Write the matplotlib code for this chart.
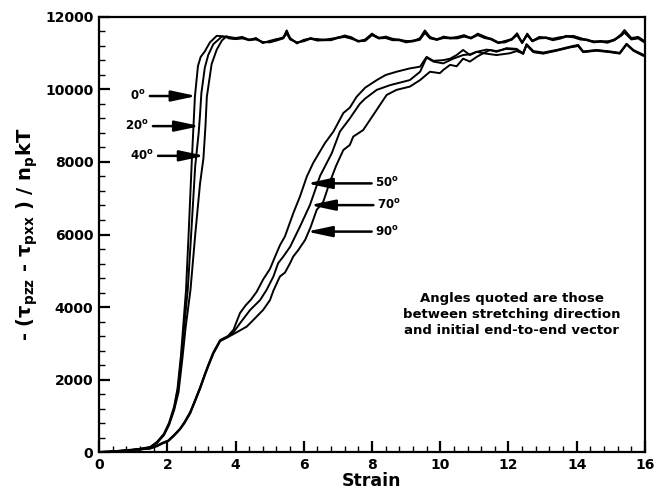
import numpy as np
import matplotlib
matplotlib.use("Agg")
import matplotlib.pyplot as plt

plt.rcParams['font.family'] = ['DejaVu Sans']
plt.rcParams['font.weight'] = 'bold'
plt.rcParams['mathtext.fontset'] = 'custom'
plt.rcParams['mathtext.rm'] = 'DejaVu Sans:bold'
plt.rcParams['mathtext.bf'] = 'DejaVu Sans:bold'
plt.rcParams['mathtext.it'] = 'DejaVu Sans:bold'

# --- fast group (0, 20, 40 deg): rise part ---
rise_0_s = [0, 0.3, 0.6, 0.9, 1.2, 1.5, 1.7, 1.9, 2.05, 2.2, 2.3, 2.4, 2.47, 2.55,
            2.63, 2.72, 2.81, 2.9, 2.98, 3.1, 3.25, 3.45, 3.6]
rise_0_v = [0, 10, 35, 60, 90, 140, 280, 500, 800, 1250, 1750, 2650, 3500, 4470,
            6100, 8050, 9800, 10650, 10900, 11050, 11300, 11480, 11470]
rise_20_s = [0, 0.3, 0.6, 0.9, 1.2, 1.5, 1.7, 1.9, 2.05, 2.2, 2.31, 2.41, 2.5, 2.6,
             2.7, 2.82, 2.92, 2.96, 3.0, 3.1, 3.2, 3.35, 3.6]
rise_20_v = [0, 5, 30, 50, 80, 130, 260, 480, 760, 1200, 1700, 2600, 3500, 4470,
             6000, 7900, 8800, 9300, 9900, 10600, 10950, 11250, 11460]
rise_40_s = [0, 0.3, 0.6, 0.9, 1.2, 1.5, 1.7, 1.9, 2.05, 2.2, 2.33, 2.44, 2.54, 2.68,
             2.82, 2.96, 3.06, 3.12, 3.16, 3.3, 3.45, 3.6, 3.74]
rise_40_v = [0, 5, 25, 45, 75, 120, 250, 460, 740, 1150, 1650, 2550, 3450, 4470,
             6000, 7400, 8100, 9000, 9800, 10700, 11100, 11350, 11470]

# --- fast group plateau ---
plateau_s = [3.8, 4.0, 4.2, 4.4, 4.6, 4.8, 5.0, 5.2, 5.4, 5.5, 5.6, 5.8, 6.0, 6.2,
             6.4, 6.6, 6.8, 7.0, 7.2, 7.4, 7.6, 7.8, 8.0, 8.2, 8.4, 8.6, 8.8, 9.0,
             9.2, 9.4, 9.55, 9.7, 9.9, 10.1, 10.3, 10.5, 10.7, 10.9, 11.1, 11.3,
             11.5, 11.7, 11.9, 12.1, 12.25, 12.4, 12.55, 12.7, 12.9, 13.1, 13.3,
             13.5, 13.7, 13.9, 14.1, 14.3, 14.5, 14.7, 14.9, 15.1, 15.3, 15.4,
             15.6, 15.8, 16.0]
plateau_0_v = [11450, 11420, 11450, 11360, 11420, 11280, 11340, 11390, 11420, 11630,
               11420, 11270, 11370, 11400, 11390, 11360, 11400, 11420, 11490, 11440,
               11320, 11380, 11540, 11410, 11460, 11400, 11360, 11340, 11330, 11410,
               11630, 11450, 11370, 11460, 11410, 11450, 11500, 11410, 11540, 11460,
               11380, 11280, 11340, 11380, 11550, 11280, 11540, 11330, 11450, 11420,
               11400, 11440, 11460, 11480, 11420, 11360, 11330, 11320, 11330, 11360,
               11520, 11640, 11420, 11450, 11330]
plateau_20_v = [11430, 11400, 11430, 11380, 11400, 11300, 11320, 11370, 11440, 11580,
                11400, 11290, 11350, 11420, 11370, 11380, 11380, 11440, 11470, 11420,
                11340, 11360, 11520, 11430, 11440, 11380, 11380, 11320, 11350, 11390,
                11590, 11430, 11390, 11440, 11430, 11430, 11480, 11430, 11520, 11440,
                11400, 11300, 11320, 11400, 11530, 11300, 11520, 11350, 11430, 11440,
                11380, 11420, 11480, 11460, 11400, 11380, 11310, 11340, 11310, 11380,
                11500, 11600, 11400, 11430, 11310]
plateau_40_v = [11410, 11390, 11410, 11360, 11380, 11310, 11300, 11350, 11410, 11550,
                11380, 11300, 11330, 11400, 11350, 11360, 11360, 11420, 11450, 11400,
                11330, 11340, 11500, 11410, 11420, 11360, 11360, 11300, 11330, 11370,
                11560, 11410, 11370, 11420, 11410, 11410, 11460, 11410, 11500, 11420,
                11380, 11290, 11300, 11380, 11500, 11290, 11500, 11330, 11410, 11420,
                11360, 11400, 11460, 11440, 11380, 11360, 11300, 11320, 11290, 11360,
                11480, 11570, 11380, 11410, 11290]

# --- slow group (50, 70, 90 deg) ---
s_50 = [0, 0.3, 0.6, 0.9, 1.2, 1.5, 1.7, 1.85, 2.03, 2.2, 2.37, 2.5, 2.67, 2.8, 2.96,
        3.1, 3.2, 3.35, 3.55, 3.78, 3.94, 4.13, 4.3, 4.45, 4.62, 4.81, 5.01, 5.16,
        5.3, 5.45, 5.69, 5.89, 6.09, 6.28, 6.45, 6.62, 6.87, 7.16, 7.35, 7.55, 7.8,
        8.14, 8.4, 8.72, 9.1, 9.41, 9.6, 9.8, 10.09, 10.29, 10.48, 10.67, 10.87,
        11.07, 11.26, 11.46, 11.65, 11.94, 12.24, 12.43, 12.53, 12.73, 13.02, 13.41,
        13.8, 14.04, 14.19, 14.58, 14.97, 15.26, 15.46, 15.66, 15.95, 16.0]
v_50 = [0, 10, 30, 50, 80, 110, 180, 250, 320, 470, 640, 820, 1100, 1400, 1780,
        2150, 2400, 2750, 3090, 3200, 3370, 3830, 4050, 4200, 4420, 4760, 5050, 5390,
        5700, 5950, 6580, 7050, 7600, 7980, 8250, 8520, 8840, 9350, 9500, 9800, 10050,
        10260, 10400, 10490, 10580, 10630, 10900, 10790, 10810, 10850, 10950, 11090,
        10950, 11040, 11000, 11090, 11040, 11140, 11120, 10980, 11250, 11060, 11020,
        11090, 11180, 11230, 11050, 11090, 11050, 11010, 11260, 11090, 10960, 10950]
s_70 = [0, 0.3, 0.6, 0.9, 1.2, 1.5, 1.7, 1.85, 2.03, 2.2, 2.37, 2.5, 2.67, 2.8, 2.96,
        3.1, 3.2, 3.35, 3.55, 3.78, 3.94, 4.13, 4.43, 4.72, 4.91, 5.11, 5.25, 5.4,
        5.6, 5.89, 6.18, 6.48, 6.82, 7.06, 7.35, 7.45, 7.64, 7.8, 8.14, 8.53, 9.11,
        9.41, 9.6, 9.8, 10.09, 10.38, 10.67, 10.87, 11.07, 11.36, 11.65, 11.94,
        12.24, 12.43, 12.53, 12.73, 13.02, 13.41, 13.8, 14.04, 14.19, 14.58, 14.97,
        15.26, 15.46, 15.66, 15.95, 16.0]
v_70 = [0, 5, 25, 45, 75, 100, 170, 240, 310, 460, 630, 800, 1080, 1380, 1760,
        2130, 2380, 2730, 3070, 3180, 3300, 3550, 3920, 4190, 4470, 4840, 5210, 5390,
        5660, 6220, 6810, 7620, 8240, 8840, 9200, 9340, 9600, 9750, 9990, 10120,
        10260, 10490, 10880, 10770, 10720, 10850, 10950, 10970, 11040, 11100, 11060,
        11120, 11100, 11010, 11240, 11040, 11000, 11080, 11170, 11210, 11040, 11080,
        11040, 11000, 11250, 11080, 10940, 10940]
s_90 = [0, 0.3, 0.6, 0.9, 1.2, 1.5, 1.7, 1.85, 2.03, 2.2, 2.37, 2.5, 2.67, 2.8, 2.96,
        3.1, 3.2, 3.35, 3.55, 3.78, 4.03, 4.33, 4.52, 4.81, 5.01, 5.11, 5.3, 5.45,
        5.6, 5.69, 5.84, 6.04, 6.2, 6.38, 6.57, 6.77, 6.95, 7.16, 7.35, 7.45, 7.74,
        8.04, 8.23, 8.43, 8.72, 9.11, 9.41, 9.7, 9.99, 10.09, 10.29, 10.48, 10.67,
        10.87, 11.07, 11.26, 11.65, 12.04, 12.24, 12.43, 12.53, 12.73, 13.02, 13.41,
        13.8, 14.04, 14.19, 14.58, 14.97, 15.26, 15.46, 15.66, 15.95, 16.0]
v_90 = [0, 5, 20, 40, 70, 95, 160, 230, 300, 450, 620, 790, 1060, 1360, 1740,
        2110, 2360, 2710, 3060, 3170, 3300, 3460, 3640, 3920, 4190, 4450, 4840, 4950,
        5210, 5390, 5570, 5850, 6200, 6680, 6900, 7460, 7900, 8330, 8470, 8700, 8880,
        9300, 9570, 9850, 9990, 10080, 10260, 10490, 10450, 10540, 10680, 10640,
        10850, 10770, 10900, 11000, 10950, 11000, 11060, 10990, 11220, 11030, 10990,
        11070, 11160, 11200, 11030, 11070, 11030, 10990, 11240, 11070, 10930, 10930]

# arrow labels: (text, tail strain, tip strain, value)
fast_arrows = [('0', 1.49, 2.86, 9820), ('20', 1.58, 2.96, 8990), ('40', 1.73, 3.10, 8170)]
slow_arrows = [('50', 7.99, 6.09, 7410), ('70', 8.04, 6.18, 6810), ('90', 7.99, 6.09, 6080)]

fig = plt.figure(figsize=(6.54, 4.91), dpi=100)
ax = fig.add_axes([0.1514, 0.0794, 0.8348, 0.886])

lw = 1.4
for rs, rv, pv in [(rise_0_s, rise_0_v, plateau_0_v),
                   (rise_20_s, rise_20_v, plateau_20_v),
                   (rise_40_s, rise_40_v, plateau_40_v)]:
    ax.plot(rs + plateau_s, rv + pv, color='black', lw=lw)
for s, v in [(s_50, v_50), (s_70, v_70), (s_90, v_90)]:
    ax.plot(s, v, color='black', lw=lw)

aprops = dict(arrowstyle='-|>,head_length=1.5,head_width=0.32', mutation_scale=10,
              color='black', lw=1.8, shrinkA=0, shrinkB=0)
for lab, tail, tip, val in fast_arrows:
    ax.annotate('', xy=(tip, val), xytext=(tail, val), arrowprops=aprops)
    ax.text(tail - 0.12, val, lab + r'$^{\mathrm{o}}$', ha='right', va='center',
            fontsize=8.5, fontweight='bold')
for lab, tail, tip, val in slow_arrows:
    ax.annotate('', xy=(tip, val), xytext=(tail, val), arrowprops=aprops)
    ax.text(tail + 0.1, val, lab + r'$^{\mathrm{o}}$', ha='left', va='center',
            fontsize=8.5, fontweight='bold')

ax.text(12.1, 3780, 'Angles quoted are those\nbetween stretching direction\nand initial end-to-end vector',
        ha='center', va='center', fontsize=9.5, fontweight='bold', linespacing=1.3)

ax.set_xlim(0, 16)
ax.set_ylim(0, 12000)
ax.set_xticks(np.arange(0, 17, 2))
ax.set_yticks(np.arange(0, 12001, 2000))
ax.set_xticks(np.arange(0, 16.01, 0.4), minor=True)
ax.set_yticks(np.arange(0, 12001, 400), minor=True)
ax.tick_params(which='major', direction='in', length=8, width=1.6, labelsize=10,
               top=False, right=False, pad=4)
ax.tick_params(which='minor', direction='in', length=4.5, width=1.0,
               top=False, right=False)
for t in ax.get_xticklabels() + ax.get_yticklabels():
    t.set_fontweight('bold')
for sp in ax.spines.values():
    sp.set_linewidth(1.6)

ax.set_xlabel('Strain', fontsize=12.5, fontweight='bold', labelpad=0)
ax.set_ylabel(r'- ($\tau_{\mathrm{pzz}}$ - $\tau_{\mathrm{pxx}}$ ) / n$_{\mathrm{p}}$kT',
              fontsize=14, fontweight='bold', labelpad=4)

fig.savefig('out.png', dpi=100)
